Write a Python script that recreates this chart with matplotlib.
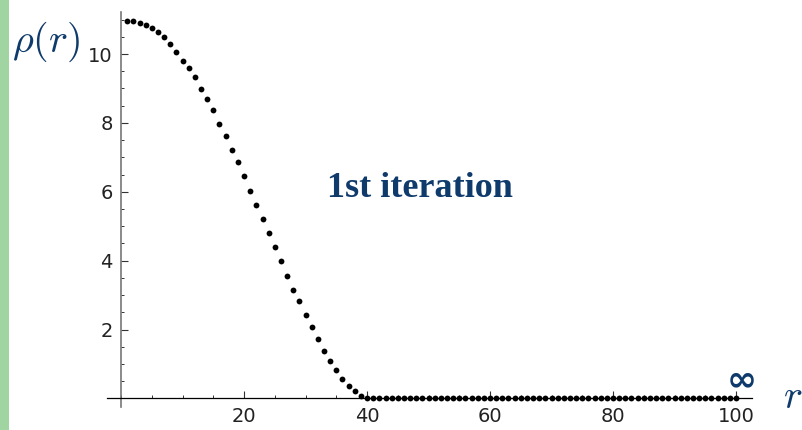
import matplotlib
matplotlib.use("Agg")
import matplotlib.pyplot as plt
from matplotlib.ticker import MultipleLocator
import matplotlib.patches as patches

# density profile after the first iteration, r = 1..100
r_vals = list(range(1, 101))
rho_head = [10.97, 10.97, 10.90, 10.83, 10.76, 10.63, 10.48, 10.28, 10.07, 9.80,
            9.59, 9.32, 8.97, 8.70, 8.36, 7.96, 7.62, 7.20, 6.86, 6.45,
            6.03, 5.62, 5.21, 4.80, 4.39, 3.98, 3.56, 3.15, 2.83, 2.41,
            2.06, 1.72, 1.37, 1.10, 0.83, 0.56, 0.35, 0.21, 0.08, 0.01]
rho_vals = rho_head + [0.0] * (len(r_vals) - len(rho_head))

x_ticks = [20, 40, 60, 80, 100]
y_ticks = [2, 4, 6, 8, 10]

navy = "#0f3a6c"

plt.rcParams["mathtext.fontset"] = "cm"

fig = plt.figure(figsize=(8.02, 4.30), dpi=100)
fig.patch.set_facecolor("white")

# green strip on the left edge
fig.patches.append(patches.Rectangle((0, 0), 9 / 802, 1, transform=fig.transFigure,
                                     facecolor="#a0d4a0", edgecolor="none"))

ax = fig.add_axes([107 / 802, 23 / 430, 645 / 802, 395 / 430])
ax.plot(r_vals, rho_vals, "o", color="black", markersize=4.2, markeredgewidth=0)

ax.set_xlim(-2.29, 102.6)
ax.set_ylim(-0.25, 11.22)
ax.spines["left"].set_position(("data", 0))
ax.spines["bottom"].set_position(("data", 0))
ax.spines["top"].set_visible(False)
ax.spines["right"].set_visible(False)
ax.spines["left"].set_color("#777777")
ax.spines["left"].set_linewidth(1.2)
ax.spines["bottom"].set_color("black")
ax.spines["bottom"].set_linewidth(0.9)

ax.set_xticks(x_ticks)
ax.set_yticks(y_ticks)
ax.xaxis.set_minor_locator(MultipleLocator(5))
ax.yaxis.set_minor_locator(MultipleLocator(0.5))
ax.tick_params(which="major", direction="in", length=5, width=0.8, color="#333333",
               labelsize=14, labelcolor="#222222", pad=6)
ax.tick_params(which="minor", direction="in", length=2.5, width=0.7, color="#333333")

ax.text(48.6, 5.85, "1st iteration", ha="center", va="baseline", color=navy,
        fontsize=26, fontweight="bold", family="Liberation Serif")
ax.text(100.9, 0.22, "\u221e", ha="center", va="baseline", color=navy,
        fontsize=26, fontweight="bold", family="DejaVu Sans")

fig.text(12 / 802, 1 - 52 / 430, r"$\rho(r)$", ha="left", va="baseline",
         color=navy, fontsize=29)
fig.text(783 / 802, 1 - 408 / 430, r"$r$", ha="left", va="baseline",
         color=navy, fontsize=29)

fig.savefig("out.png", dpi=100)
